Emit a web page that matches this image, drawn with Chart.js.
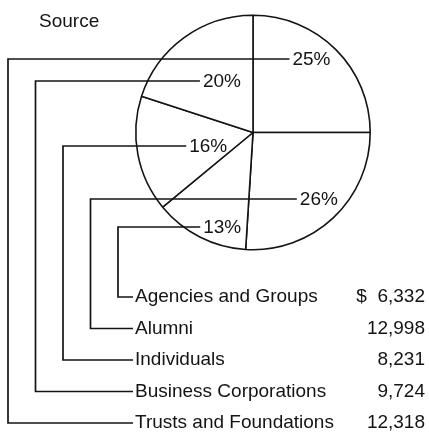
<!DOCTYPE html>
<html>
<head>
<meta charset="utf-8">
<script src="https://cdn.jsdelivr.net/npm/chart.js@4"></script>
<style>
  html, body { margin: 0; padding: 0; background: #fff; }
  canvas { display: block; }
</style>
</head>
<body>
<canvas id="myChart" width="429" height="432"></canvas>
<script>
// Data, pie order clockwise from 12 o'clock
const categories = ['Trusts and Foundations', 'Alumni', 'Agencies and Groups', 'Individuals', 'Business Corporations'];
const shares = [25, 26, 13, 16, 20];
const amounts = [12318, 12998, 6332, 8231, 9724];
const shareLabels = ['25%', '26%', '13%', '16%', '20%'];

// Layout of the labels (row in the list below the pie, label spot inside the slice)
const listRow = [4, 1, 0, 2, 3];
const labelSpot = [
  { turn: -6.4, dist: 0.80 },
  { turn: -1.4, dist: 0.80 },
  { turn: -9, dist: 0.85 },
  { turn: -6.5, dist: 0.40 },
  { turn: 4.7, dist: 0.51 },
];

const FONT = '19px "Liberation Sans", Arial, sans-serif';
const INK = '#141414';

const leaderPlugin = {
  id: 'leaders',
  afterDraw(chart) {
    const ctx = chart.ctx;
    const arcs = chart.getDatasetMeta(0).data;
    ctx.save();
    ctx.font = FONT;
    ctx.fillStyle = INK;
    ctx.strokeStyle = INK;
    ctx.lineWidth = 1.7;
    ctx.textBaseline = 'middle';

    ctx.textAlign = 'left';
    ctx.fillText('Source', 39, 22);

    arcs.forEach(function (arc, i) {
      const p = arc.getProps(['x', 'y', 'startAngle', 'endAngle', 'outerRadius'], true);
      const ang = (p.startAngle + p.endAngle) / 2 + labelSpot[i].turn * Math.PI / 180;
      const cx = p.x + Math.cos(ang) * p.outerRadius * labelSpot[i].dist;
      const cy = Math.round(p.y + Math.sin(ang) * p.outerRadius * labelSpot[i].dist);
      const w = ctx.measureText(shareLabels[i]).width;
      const left = cx - w / 2;

      const row = listRow[i];
      const rowY = 297 + row * 31.5;
      const vx = 8 + (4 - row) * 27.5;

      ctx.beginPath();
      ctx.moveTo(left - 3, cy);
      ctx.lineTo(vx, cy);
      ctx.lineTo(vx, rowY);
      ctx.lineTo(133, rowY);
      ctx.stroke();

      ctx.textAlign = 'left';
      ctx.fillText(shareLabels[i], left, cy + 1);
      ctx.fillText(categories[i], 135, rowY);

      ctx.textAlign = 'right';
      let txt = amounts[i].toLocaleString('en-US');
      if (row == 0) txt = '$  ' + txt;
      ctx.fillText(txt, 425, rowY);
    });
    ctx.restore();
  }
};

const ctx = document.getElementById('myChart').getContext('2d');

const chart = new Chart(ctx, {
  type: 'pie',
  data: {
    labels: categories,
    datasets: [{
      data: shares,
      backgroundColor: '#ffffff',
      borderColor: INK,
      borderWidth: 1.6,
    }]
  },
  options: {
    responsive: false,
    devicePixelRatio: 1,
    animation: false,
    events: [],
    layout: { padding: { left: 135, right: 58, top: 14, bottom: 181 } },
    plugins: {
      legend: { display: false },
      tooltip: { enabled: false },
    },
  },
  plugins: [leaderPlugin],
});
</script>
</body>
</html>
